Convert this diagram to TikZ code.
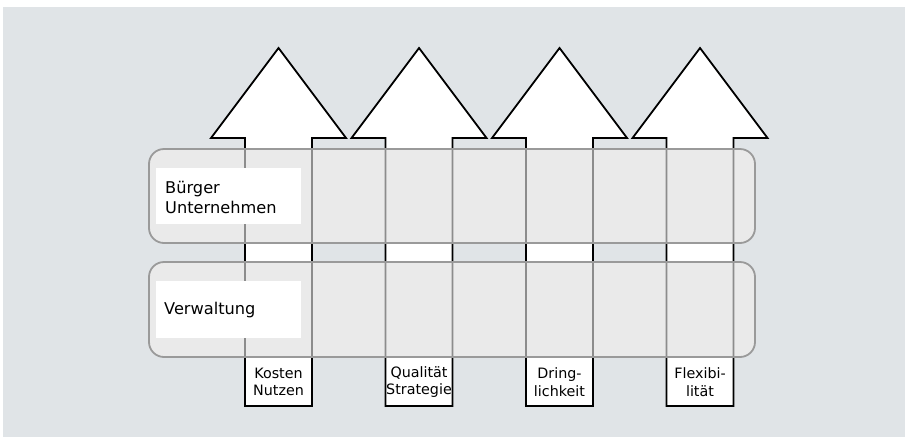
\documentclass[tikz,border=0pt]{standalone}
\usepackage{fontspec}
\setmainfont{DejaVu Sans}
\definecolor{bgc}{HTML}{E0E4E7}
\definecolor{bandc}{HTML}{EAEAEA}
\definecolor{bandline}{HTML}{9A9A9A}
\definecolor{thru}{HTML}{8C8C8C}
\tikzset{
  arrowshape/.style={draw=black, fill=white, line width=1.8pt, line join=miter},
  arrowthru/.style={draw=thru, line width=1.8pt, line join=miter},
  band/.style={draw=bandline, line width=1.8pt, fill=bandc, rounded corners=15pt},
  labelbox/.style={fill=white, draw=none},
  labeltext/.style={anchor=west, align=left, inner sep=0pt, font=\fontsize{16.2}{20}\selectfont},
  smalltext/.style={align=center, inner sep=0pt, font=\fontsize{14.3}{17.5}\selectfont}
}
\newcommand{\arrowpath}[1]{(#1-33.5,406) -- (#1-33.5,138) -- (#1-67.5,138) -- (#1,48)
     -- (#1+67.5,138) -- (#1+33.5,138) -- (#1+33.5,406) -- cycle}
\begin{document}
\begin{tikzpicture}[x=1pt,y=-1pt]
\useasboundingbox (0,0) rectangle (905,437);
\fill[bgc] (3,7) rectangle (905,437);
% arrows
\foreach \cx in {278.5,419,559.5,700} {
  \draw[arrowshape] \arrowpath{\cx};
}
% bands (fill)
\fill[bandc, rounded corners=15pt] (149,149) rectangle (755,243);
\fill[bandc, rounded corners=15pt] (149,262) rectangle (755,357);
% arrow outlines seen through the bands
\begin{scope}
  \clip[rounded corners=15pt] (149,149) rectangle (755,243) (149,262) rectangle (755,357);
  \foreach \cx in {278.5,419,559.5,700} {
    \draw[arrowthru] \arrowpath{\cx};
  }
\end{scope}
% band borders
\draw[band, fill=none] (149,149) rectangle (755,243);
\draw[band, fill=none] (149,262) rectangle (755,357);
% label boxes
\fill[labelbox] (156,168) rectangle (301,224);
\fill[labelbox] (156,281) rectangle (301,338);
\node[labeltext] (buerger) at (165,197) {Bürger\\Unternehmen};
\node[labeltext] (verw) at (164,310) {Verwaltung};
% bottom labels
\node[smalltext] (kn) at (278.5,382) {Kosten\\Nutzen};
\node[smalltext] (qs) at (419,382) {Qualität\\Strategie};
\node[smalltext] (dl) at (559.5,382) {Dring-\\lichkeit};
\node[smalltext] (fl) at (700,382) {Flexibi-\\lität};
\end{tikzpicture}
\end{document}
